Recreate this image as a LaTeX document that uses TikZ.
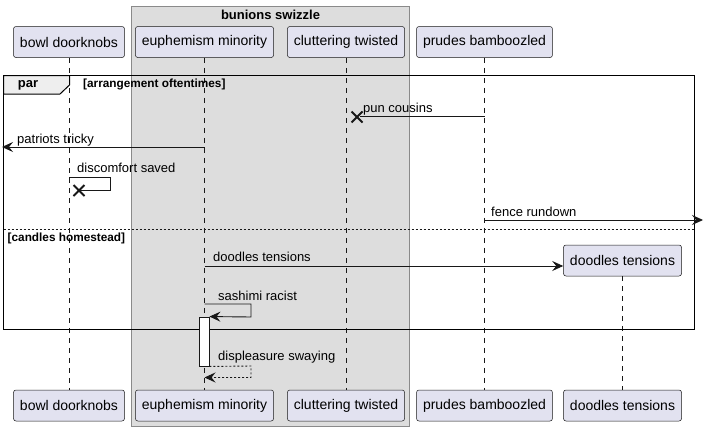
\documentclass[tikz,border=0pt]{standalone}
\usepackage{fontspec}
\setmainfont{Liberation Sans}
\usetikzlibrary{arrows.meta, positioning, calc}
\definecolor{partfill}{HTML}{E2E2F0}
\definecolor{partline}{HTML}{181818}
\definecolor{groupfill}{HTML}{DDDDDD}
\definecolor{groupline}{HTML}{8A8A8A}
\definecolor{tabfill}{HTML}{EEEEEE}

\begin{document}
\begin{tikzpicture}[x=1pt, y=-1pt,
    part/.style={rectangle, rounded corners=2.5pt, draw=partline, fill=partfill, line width=0.5pt, minimum height=31pt, inner xsep=6.5pt, font=\fontsize{14}{16}\selectfont},
    lifeline/.style={draw=partline, line width=0.5pt, dash pattern=on 5pt off 5pt},
    msgline/.style={draw=partline, line width=0.9pt},
    msg/.style={msgline, -{Stealth[length=11pt, width=10pt, inset=4pt]}},
    reply/.style={msg, dash pattern=on 2pt off 2pt},
    msglabel/.style={anchor=base west, inner sep=0pt, font=\fontsize{13}{15}\selectfont},
    guard/.style={anchor=west, inner sep=0pt, font=\bfseries\fontsize{11.8}{13}\selectfont},
    kill/.style={draw=partline, line width=2pt},
    actbox/.style={rectangle, draw=partline, fill=white, line width=0.9pt, minimum width=10pt, minimum height=49pt, inner sep=0pt}
]
\useasboundingbox (0,0) rectangle (704,431);

% Box around the grouped participants
\draw[fill=groupfill, draw=groupline, line width=0.8pt] (131.5,6.5) rectangle (409.5,426.5);
\node[font=\bfseries\fontsize{13}{15}\selectfont] (grp-title) at (270.5,15) {bunions swizzle};

% Participants, top and bottom
\foreach \n/\x/\t in {bowl/69/bowl doorknobs, euph/204.5/euphemism minority, clut/346/cluttering twisted, prud/484.5/prudes bamboozled} {
    \node[part] (\n-top) at (\x,42) {\t};
    \node[part] (\n-bot) at (\x,405.5) {\t};
}
\node[part] (dood-top) at (622.5,260.5) {doodles tensions};
\node[part] (dood-bot) at (622.5,405.5) {doodles tensions};

% Lifelines
\foreach \n in {bowl,euph,clut,prud,dood} {
    \draw[lifeline] (\n-top) -- (\n-bot);
}

% par frame
\draw[line width=1.5pt] (3.5,75.5) rectangle (694.5,329.5);
\draw[fill=tabfill, line width=1pt] (3.5,75.5) -- (69.5,75.5) -- (69.5,85) -- (60,94) -- (3.5,94) -- cycle;
\node[font=\bfseries\fontsize{13}{15}\selectfont, inner sep=0pt] (par-tab) at (28,85) {par};
\node[guard] (guard-a) at (83,84) {[arrangement oftentimes]};
\draw[msgline, dash pattern=on 2pt off 2pt] (3.5,229) -- (694.5,229);
\node[guard] (guard-b) at (7.5,238) {[candles homestead]};

% Messages
\draw[msgline] (prud-top |- 0,116) -- (360,116) coordinate (pun-x);
\draw[kill] ($(pun-x)+(-8.5,-4.5)$) -- ++(11,11) ($(pun-x)+(-8.5,6.5)$) -- ++(11,-11);
\node[msglabel] (lbl-pun) at (363,112) {pun cousins};

\draw[msg] (euph-top |- 0,147) -- (2,147);
\node[msglabel] (lbl-pat) at (17,143) {patriots tricky};

\draw[msgline] (bowl-top |- 0,177) -- (110,177) -- (110,190.5) -- (79,190.5) coordinate (dis-x);
\draw[kill] ($(dis-x)+(-5.5,-5.5)$) -- ++(11,11) ($(dis-x)+(-5.5,5.5)$) -- ++(11,-11);
\node[msglabel] (lbl-dis) at (77,172) {discomfort saved};

\draw[msg] (prud-top |- 0,220) -- (703,220);
\node[msglabel] (lbl-fen) at (491,216) {fence rundown};

\draw[msg] (euph-top |- 0,266) -- (dood-top.west |- 0,266);
\node[msglabel] (lbl-dood) at (213,261) {doodles tensions};

\node[actbox] (act) at (204,341.5) {};
\draw[msg] (euph-top |- 0,304) -- (251,304) -- (251,317) -- (act.north east);
\node[msglabel] (lbl-sas) at (218,300) {sashimi racist};

\draw[reply] (act.south east) -- (251,366) -- (251,377.5) -- (euph-top |- 0,377.5);
\node[msglabel] (lbl-dsp) at (218,360) {displeasure swaying};

\end{tikzpicture}
\end{document}
